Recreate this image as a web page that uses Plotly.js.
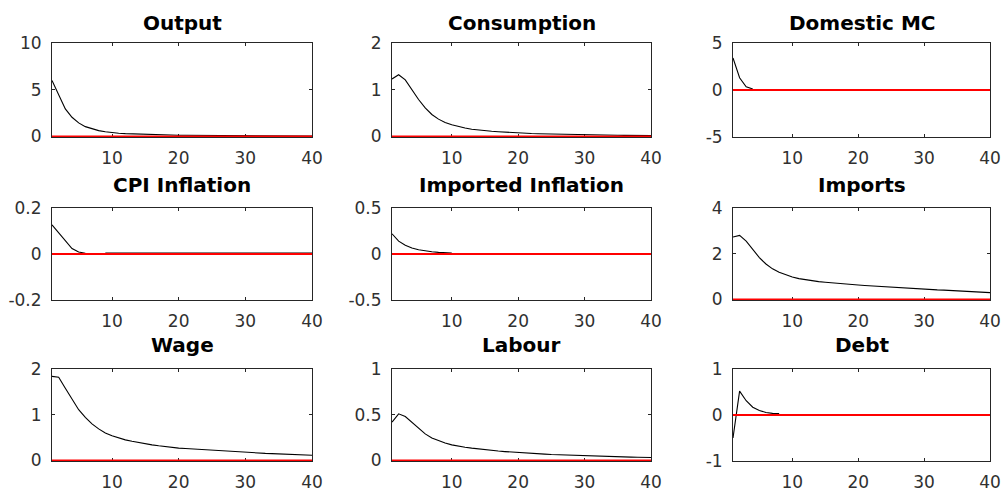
<!DOCTYPE html>
<html>
<head>
<meta charset="utf-8">
<script src="https://cdn.plot.ly/plotly-3.0.1.min.js"></script>
<style>html,body{margin:0;padding:0;background:#fff;}#chart{width:1005px;height:494px;}</style>
</head>
<body>
<div id="chart"></div>
<script>
// Panel titles
const titles = ["Output","Consumption","Domestic MC","CPI Inflation","Imported Inflation","Imports","Wage","Labour","Debt"];
// Horizon (periods 1..40)
const horizon = [1,2,3,4,5,6,7,8,9,10,11,12,13,14,15,16,17,18,19,20,21,22,23,24,25,26,27,28,29,30,31,32,33,34,35,36,37,38,39,40];

// Impulse responses (null = not drawn)
const output = [6.0,4.4,2.95,2.05,1.45,1.05,0.8,0.62,0.5,0.4,0.34,0.3,0.27,0.24,0.22,0.2,0.16,0.15,0.14,0.13,0.12,0.115,0.11,0.1,0.095,0.09,0.085,0.08,0.075,0.07,0.068,0.065,0.062,0.06,0.057,0.055,0.052,0.05,0.048,0.046];
const consumption = [1.23,1.32,1.21,1.0,0.79,0.61,0.47,0.37,0.3,0.25,0.21,0.18,0.155,0.135,0.12,0.11,0.1,0.09,0.08,0.07,0.066,0.062,0.058,0.054,0.05,0.047,0.044,0.041,0.038,0.035,0.03,0.028,0.026,0.025,0.024,0.023,0.022,0.021,0.02,0.019];
const domesticMC = [3.4,1.3,0.35,0.1,null,null,null,null,null,null,null,null,null,null,null,null,null,null,null,null,null,null,null,null,null,null,null,null,null,null,null,null,null,null,null,null,null,null,null,null];
const cpiInflation = [0.127,0.093,0.055,0.024,0.009,0.003,null,null,0.004,0.004,0.004,0.004,0.004,0.004,0.004,0.004,0.004,0.004,0.004,0.004,0.004,0.004,0.004,0.004,0.004,0.004,0.004,0.004,0.004,0.004,0.004,0.004,0.004,0.004,0.004,0.004,0.004,0.004,0.004,0.004];
const importedInflation = [0.22,0.14,0.095,0.066,0.047,0.033,0.024,0.018,0.014,0.011,null,null,null,null,null,null,null,null,null,null,null,null,null,null,null,null,null,null,null,null,null,null,null,null,null,null,null,null,null,null];
const imports = [2.73,2.8,2.55,2.17,1.83,1.55,1.34,1.19,1.07,0.98,0.91,0.86,0.82,0.78,0.75,0.72,0.69,0.67,0.65,0.63,0.61,0.59,0.57,0.55,0.53,0.51,0.5,0.48,0.46,0.45,0.43,0.42,0.41,0.39,0.38,0.37,0.35,0.34,0.32,0.3];
const wage = [1.84,1.82,1.58,1.33,1.11,0.94,0.8,0.69,0.6,0.54,0.49,0.45,0.42,0.39,0.36,0.34,0.32,0.3,0.28,0.27,0.26,0.25,0.24,0.23,0.22,0.21,0.2,0.19,0.18,0.175,0.17,0.16,0.155,0.15,0.145,0.14,0.13,0.125,0.12,0.115];
const labour = [0.42,0.51,0.48,0.42,0.35,0.29,0.245,0.215,0.19,0.17,0.155,0.145,0.135,0.125,0.117,0.11,0.103,0.097,0.091,0.086,0.081,0.077,0.073,0.069,0.065,0.062,0.059,0.056,0.053,0.05,0.048,0.046,0.044,0.042,0.04,0.038,0.036,0.035,0.034,0.033];
const debt = [-0.5,0.52,0.31,0.17,0.1,0.055,0.035,0.03,null,null,null,null,null,null,null,null,null,null,null,null,null,null,null,null,null,null,null,null,null,null,null,null,null,null,null,null,null,null,null,null];
const zeroLine = [0,0,0,0,0,0,0,0,0,0,0,0,0,0,0,0,0,0,0,0,0,0,0,0,0,0,0,0,0,0,0,0,0,0,0,0,0,0,0,0];

const seriesList = [output,consumption,domesticMC,cpiInflation,importedInflation,imports,wage,labour,debt];
// y-axis ranges and ticks
const yRanges = [[0,10],[0,2],[-5,5],[-0.2,0.2],[-0.5,0.5],[0,4],[0,2],[0,1],[-1,1]];
const yTicks = [[0,5,10],[0,1,2],[-5,0,5],[-0.2,0,0.2],[-0.5,0,0.5],[0,2,4],[0,1,2],[0,0.5,1],[-1,0,1]];
const yTickText = [["0","5","10"],["0","1","2"],["-5","0","5"],["-0.2","0","0.2"],["-0.5","0","0.5"],["0","2","4"],["0","1","2"],["0","0.5","1"],["-1","0","1"]];
const xTicks = [10,20,30,40];

// layout geometry (pixels)
const W = 1005, H = 494;
const colPx = [[52,312],[392,651],[733,990]];
const rowPx = [[43,137],[208,300],[369,461]];
const titleY = [22.5,185.5,345];

const traces = [];
const layout = {
  width: W, height: H,
  margin: {l:0,r:0,t:0,b:0},
  paper_bgcolor: '#ffffff', plot_bgcolor: '#ffffff',
  showlegend: false,
  annotations: []
};
const tickFont = {family: 'DejaVu Sans, Liberation Sans, Arial, sans-serif', size: 17, color: '#303030'};

for (let i = 0; i < 9; i++) {
  const r = Math.floor(i/3), c = i%3;
  const sfx = i === 0 ? '' : String(i+1);
  const xa = 'x'+sfx, ya = 'y'+sfx;
  traces.push({x: horizon, y: seriesList[i], xaxis: xa, yaxis: ya, type: 'scatter', mode: 'lines',
    line: {color: '#000000', width: 1.1}, connectgaps: false, hoverinfo: 'skip'});
  traces.push({x: horizon, y: zeroLine, xaxis: xa, yaxis: ya, type: 'scatter', mode: 'lines',
    line: {color: '#ff0000', width: 2}, hoverinfo: 'skip'});
  const xd = [colPx[c][0]/W, colPx[c][1]/W];
  const yd = [1 - rowPx[r][1]/H, 1 - rowPx[r][0]/H];
  const span = yRanges[i][1] - yRanges[i][0];
  // tiny pad so a zero line on the bottom edge is not clipped away
  const pad = yRanges[i][0] === 0 ? span * 0.006 : 0;
  layout['xaxis'+sfx] = {
    domain: xd, anchor: ya, range: [1,40], tickmode: 'array', tickvals: xTicks, ticktext: xTicks.map(String),
    showgrid: false, zeroline: false, showline: true, linecolor: '#262626', linewidth: 1, mirror: 'ticks',
    ticks: 'inside', ticklen: 3, tickcolor: '#262626', tickwidth: 1, tickfont: tickFont, ticklabelstandoff: 6,
    layer: 'below traces', fixedrange: true
  };
  layout['yaxis'+sfx] = {
    domain: yd, anchor: xa, range: [yRanges[i][0] - pad, yRanges[i][1]], tickmode: 'array', tickvals: yTicks[i], ticktext: yTickText[i],
    showgrid: false, zeroline: false, showline: true, linecolor: '#262626', linewidth: 1, mirror: 'ticks',
    ticks: 'inside', ticklen: 3, tickcolor: '#262626', tickwidth: 1, tickfont: tickFont, ticklabelstandoff: 6,
    layer: 'below traces', fixedrange: true
  };
  layout.annotations.push({
    text: '<b>' + titles[i] + '</b>', xref: 'paper', yref: 'paper',
    x: (xd[0]+xd[1])/2, y: 1 - titleY[r]/H, xanchor: 'center', yanchor: 'middle', showarrow: false,
    font: {family: 'DejaVu Sans, Liberation Sans, Arial, sans-serif', size: 20, color: '#000000'}
  });
}

Plotly.newPlot('chart', traces, layout, {staticPlot: true, displayModeBar: false});
</script>
</body>
</html>
